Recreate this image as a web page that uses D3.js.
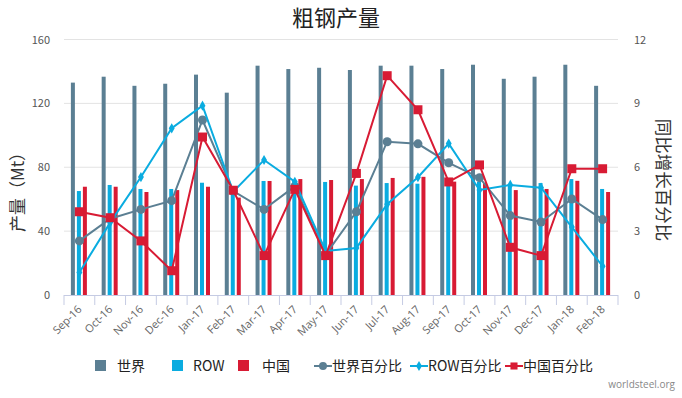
<!DOCTYPE html>
<html><head><meta charset="utf-8">
<script src="https://cdn.jsdelivr.net/npm/d3@7"></script>
<style>body{margin:0;background:#fff;}svg{display:block;font-family:"Noto Sans CJK SC","Open Sans",sans-serif;}</style>
</head><body>
<svg id="c" width="682" height="398"></svg>
<script>
const categories = ["Sep-16","Oct-16","Nov-16","Dec-16","Jan-17","Feb-17","Mar-17","Apr-17","May-17","Jun-17","Jul-17","Aug-17","Sep-17","Oct-17","Nov-17","Dec-17","Jan-18","Feb-18"];
const world = [133,136.7,131,132.3,138,126.7,143.6,141.5,142.3,140.9,143.6,143.6,141.5,144.2,135.4,136.7,144.2,131];
const row   = [65.1,68.9,66.4,66.4,70.3,63,71.4,71,70.8,68.5,70.1,69.7,70,71,69.3,70.1,72.6,66.4];
const china = [67.8,67.8,64.5,65.7,67.8,61,71.4,72.6,72,72.6,73.3,74,71,70,65.7,66.4,71.5,64.5];
const worldPct = [2.54,3.58,4.02,4.43,8.22,4.88,4.02,5.1,1.9,3.91,7.2,7.1,6.21,5.51,3.73,3.43,4.51,3.54];
const rowPct   = [1.06,3.4,5.54,7.83,8.89,4.85,6.34,5.32,2.07,2.21,4.26,5.53,7.11,4.93,5.17,5.04,3.19,1.35];
const chinaPct = [3.91,3.63,2.54,1.14,7.42,4.92,1.85,4.96,1.85,5.71,10.3,8.7,5.31,6.11,2.24,1.85,5.93,5.93];
const leftTicks = [0,40,80,120,160];
const rightTicks = [0,3,6,9,12];
const title = "粗钢产量";
const leftLabel = "产量（Mt）";
const rightLabel = "同比增长百分比";
const colors = {world:"#5B7F93", row:"#0AACE0", china:"#D81B34"};

const svg = d3.select("#c");
const L=64, R=618, T=39.5, B=295;
const x = d3.scaleBand().domain(categories).range([L,R]);
const yL = d3.scaleLinear().domain([0,160]).range([B,T]);
const yR = d3.scaleLinear().domain([0,12]).range([B,T]);

// grid
svg.append("g").selectAll("line").data(leftTicks.slice(1)).join("line")
  .attr("x1",L).attr("x2",R).attr("y1",d=>yL(d)).attr("y2",d=>yL(d))
  .attr("stroke","#e3e3e3").attr("stroke-width",1);

// axis labels
svg.append("g").selectAll("text").data(leftTicks).join("text")
  .attr("x",50).attr("y",d=>yL(d)+4).attr("text-anchor","end")
  .attr("font-size",11).attr("fill","#555").text(d=>d);
svg.append("g").selectAll("text").data(rightTicks).join("text")
  .attr("x",634).attr("y",d=>yR(d)+4).attr("text-anchor","start")
  .attr("font-size",11).attr("fill","#555").text(d=>d);

// bars
const bw=4;
const offs = {world:-6.5, row:-0.5, china:5.5};
function bars(data,key){
  svg.append("g").selectAll("rect").data(data).join("rect")
    .attr("x",(d,i)=>x(categories[i])+x.bandwidth()/2+offs[key]-bw/2)
    .attr("width",bw)
    .attr("y",d=>yL(d)).attr("height",d=>B-yL(d))
    .attr("fill",colors[key]);
}
bars(world,"world"); bars(row,"row"); bars(china,"china");

// x axis
svg.append("line").attr("x1",L).attr("x2",R).attr("y1",B+0.5).attr("y2",B+0.5).attr("stroke","#c5cbe3");
svg.append("g").selectAll("line").data(d3.range(categories.length+1)).join("line")
  .attr("x1",i=>L+i*x.step()).attr("x2",i=>L+i*x.step())
  .attr("y1",B).attr("y2",B+10).attr("stroke","#c5cbe3");
svg.append("g").selectAll("text").data(categories).join("text")
  .attr("transform",d=>`translate(${x(d)+x.bandwidth()/2+3},${B+15}) rotate(-45)`)
  .attr("text-anchor","end").attr("font-size",11).attr("fill","#666")
  .attr("font-family","'Open Sans',sans-serif").text(d=>d);

// lines
const cx = i=>x(categories[i])+x.bandwidth()/2;
function line(data,key,marker){
  const g=svg.append("g");
  g.append("path").datum(data)
    .attr("d",d3.line().x((d,i)=>cx(i)).y(d=>yR(d)))
    .attr("fill","none").attr("stroke",colors[key]).attr("stroke-width",2);
  const sym = d3.symbol().type(marker.type).size(marker.size);
  g.selectAll("path.m").data(data).join("path").attr("class","m")
    .attr("transform",(d,i)=>`translate(${cx(i)},${yR(d)})`)
    .attr("d",sym).attr("fill",colors[key]);
}
line(worldPct,"world",{type:d3.symbolCircle,size:64});
line(rowPct,"row",{type:d3.symbolDiamond,size:30});
line(chinaPct,"china",{type:d3.symbolSquare,size:81});

// title
svg.append("text").attr("x",336).attr("y",26).attr("text-anchor","middle")
  .attr("font-size",22).attr("fill","#222").text(title);
svg.append("text").attr("transform","translate(24,188) rotate(-90)").attr("text-anchor","middle")
  .attr("font-size",17).attr("fill","#333").text(leftLabel);
svg.append("text").attr("transform","translate(657,180) rotate(90)").attr("text-anchor","middle")
  .attr("font-size",17.5).attr("fill","#333").text(rightLabel);

// legend
const leg = svg.append("g").attr("font-size",14).attr("fill","#222");
const sq = [[95,"世界","world",117],[172,"ROW","row",193],[238,"中国","china",262]];
sq.forEach(([px,t,k,tx])=>{
  leg.append("rect").attr("x",px).attr("y",360).attr("width",11).attr("height",11).attr("fill",colors[k]);
  leg.append("text").attr("x",tx).attr("y",371).text(t);
});
const ln = [[314,"世界百分比","world",d3.symbolCircle,50],[410,"ROW百分比","row",d3.symbolDiamond,30],[505,"中国百分比","china",d3.symbolSquare,50]];
ln.forEach(([px,t,k,ty,sz])=>{
  leg.append("line").attr("x1",px).attr("x2",px+18).attr("y1",366).attr("y2",366).attr("stroke",colors[k]).attr("stroke-width",2);
  leg.append("path").attr("transform",`translate(${px+9},366)`).attr("d",d3.symbol().type(ty).size(sz)).attr("fill",colors[k]);
  leg.append("text").attr("x",px+18).attr("y",371).text(t);
});
svg.append("text").attr("x",675).attr("y",388).attr("text-anchor","end").attr("font-size",10)
  .attr("fill","#888").attr("font-family","'Open Sans',sans-serif").text("worldsteel.org");
</script>
</body></html>
